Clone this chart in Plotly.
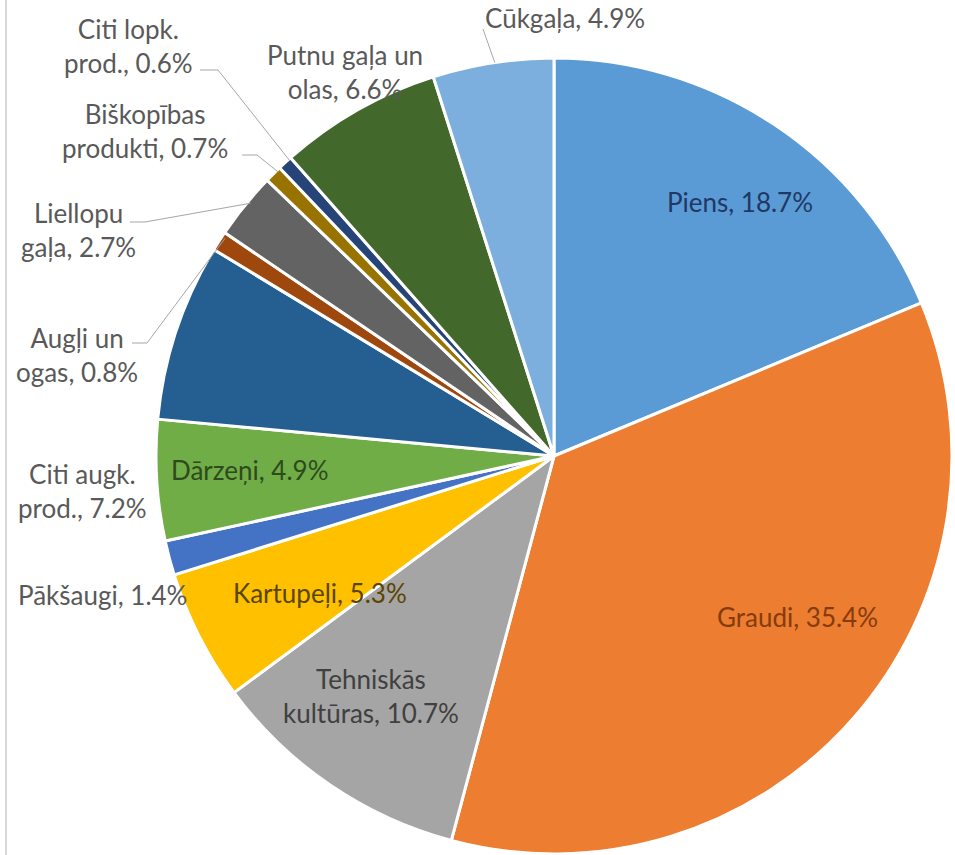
import math
import plotly.graph_objects as go

# ---- data ----
categories = ["Piens", "Graudi", "Tehniskās kultūras", "Kartupeļi", "Pākšaugi",
              "Dārzeņi", "Citi augk. prod.", "Augļi un ogas", "Liellopu gaļa",
              "Biškopības produkti", "Citi lopk. prod.", "Putnu gaļa un olas", "Cūkgaļa"]
shares = [18.7, 35.4, 10.7, 5.3, 1.4, 4.9, 7.2, 0.8, 2.7, 0.7, 0.6, 6.6, 4.9]
display_names = ["Piens", "Graudi", "Tehniskās<br>kultūras", "Kartupeļi", "Pākšaugi",
                 "Dārzeņi", "Citi augk.<br>prod.", "Augļi un<br>ogas", "Liellopu<br>gaļa",
                 "Biškopības<br>produkti", "Citi lopk.<br>prod.", "Putnu gaļa un<br>olas", "Cūkgaļa"]
colors = ["#5B9BD5", "#ED7D31", "#A5A5A5", "#FFC000", "#4472C4", "#70AD47", "#255E91",
          "#9E480E", "#636363", "#997300", "#264478", "#43682B", "#7CAFDD"]
label_colors = ["#1F3864", "#843C0C", "#404040", "#5A4500", "#595959", "#2E4A1C", "#595959",
                "#595959", "#595959", "#595959", "#595959", "#595959", "#595959"]

# ---- layout geometry (pixels) ----
W, H = 955, 855
CX, CY, R = 555, 450, 392          # pie as seen in the reference
DCX, DCY, R_DOMAIN = 554, 456, 398  # domain box that renders to it
label_pos = [(740, 202), (797, 617), (371, 696), (320, 593), (102, 595), (250, 470),
             (82, 491), (77, 355), (78, 230), (145, 131), (128, 46), (345, 72), (565, 18)]
leader_start = {7: [(132, 343), (147, 343)], 8: [(130, 222), (145, 222)],
                9: [(242, 155), (257, 155)], 10: [(200, 70), (218, 70)],
                12: [(483, 29)]}

def px(x):
    return x / W

def py(y):
    return 1 - y / H

fig = go.Figure(go.Pie(
    labels=categories, values=shares, sort=False, direction="clockwise", rotation=0,
    marker=dict(colors=colors, line=dict(color="white", width=3)),
    textinfo="none", hoverinfo="label+percent", showlegend=False,
    domain=dict(x=[px(DCX - R_DOMAIN), px(DCX + R_DOMAIN)],
                y=[py(DCY + R_DOMAIN), py(DCY - R_DOMAIN)]),
))

total = sum(shares)
annotations = []
shapes = []
cum = 0
for i, (name, v) in enumerate(zip(display_names, shares)):
    mid = (cum + v / 2) / total * 2 * math.pi
    cum += v
    lx, ly = label_pos[i]
    annotations.append(dict(
        x=px(lx), y=py(ly), xref="paper", yref="paper", showarrow=False,
        text=f"{name}, {v:.1f}%", xanchor="center", yanchor="middle",
        font=dict(family="Lato", size=26, color=label_colors[i]), align="center"))
    if i in leader_start:
        ex, ey = CX + R * math.sin(mid), CY - R * math.cos(mid)
        pts = leader_start[i] + [(ex, ey)]
        path = "M " + " L ".join(f"{px(a):.5f},{py(b):.5f}" for a, b in pts)
        shapes.append(dict(type="path", path=path, xref="paper", yref="paper",
                           line=dict(color="#A6A6A6", width=1)))

# left border of the chart area
shapes.append(dict(type="line", xref="paper", yref="paper", x0=px(6), x1=px(6), y0=0, y1=1,
                   line=dict(color="#D9D9D9", width=2)))

fig.update_layout(
    width=W, height=H, margin=dict(l=0, r=0, t=0, b=0),
    paper_bgcolor="white", plot_bgcolor="white",
    annotations=annotations, shapes=shapes,
)
fig.write_html("out.html", config={"displayModeBar": False},
               post_script="document.body.style.margin='0';")
